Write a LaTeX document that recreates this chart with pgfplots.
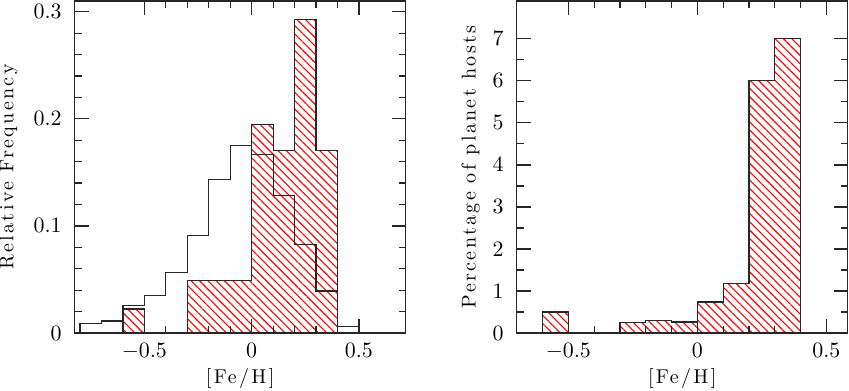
\documentclass[border=0pt]{standalone}
\usepackage{fontspec}
\usepackage{pgfplots}
\pgfplotsset{compat=1.18}
\usetikzlibrary{patterns.meta}

\newfontfamily\spaced[LetterSpace=12]{Latin Modern Roman}

\pgfplotsset{
  feh/.style={
    scale only axis, width=165.5pt, height=166pt,
    axis line style={line width=0.6pt, black!85},
    every tick/.style={line width=0.6pt, black!85},
    tick align=inside, major tick length=7pt, minor tick length=3.5pt,
    xtick={-0.5,0,0.5}, minor x tick num=4,
    tick label style={font=\fontsize{10.5}{12}\selectfont},
    xlabel={\spaced [Fe/H]},
    xlabel style={at={(axis description cs:0.5,-0.136)}, anchor=center, inner sep=0pt},
    xticklabel style={yshift=-1.5pt},
    yticklabel style={xshift=-3pt},
    axis on top,
  },
  hatched/.style={const plot, draw=black!85, line width=0.6pt,
    pattern={Lines[angle=-45, distance=2.95pt, line width=0.55pt]},
    pattern color=red},
  outline/.style={const plot, draw=black!85, line width=0.6pt},
}

\begin{document}
\begin{tikzpicture}

  % all stars vs. planet hosts
  \begin{axis}[feh,
      xmin=-0.825, xmax=0.718, ymin=0, ymax=0.31,
      ytick={0,0.1,0.2,0.3}, minor y tick num=4,
      ylabel={\spaced Relative Frequency},
      ylabel style={at={(axis description cs:-0.2,0.5)}, anchor=center, inner sep=0pt},
    ]
    \addplot[hatched] coordinates {
        (-0.6,0) (-0.6,0.0224) (-0.5,0)
    } \closedcycle;
    \addplot[hatched] coordinates {
        (-0.3,0) (-0.3,0.049) (0,0.195) (0.1,0.1704)
        (0.2,0.2928) (0.3,0.1704) (0.4,0)
    } \closedcycle;
    \addplot[outline] coordinates {
        (-0.8,0) (-0.8,0.0087) (-0.7,0.0112) (-0.6,0.0255)
        (-0.5,0.0352) (-0.4,0.0564) (-0.3,0.0913) (-0.2,0.1433)
        (-0.1,0.1748) (0,0.1664) (0.1,0.1283) (0.2,0.0826)
        (0.3,0.0393) (0.4,0.0059) (0.5,0)
    };
  \end{axis}

  % host fraction per bin
  \begin{axis}[feh, at={(221pt,0)},
      xmin=-0.7, xmax=0.583, ymin=0, ymax=7.9,
      ytick={0,1,...,7}, minor y tick num=1,
      ylabel={\spaced Percentage of planet hosts},
      ylabel style={at={(axis description cs:-0.139,0.5)}, anchor=center, inner sep=0pt},
    ]
    \addplot[hatched] coordinates {
        (-0.6,0) (-0.6,0.50) (-0.5,0)
    } \closedcycle;
    \addplot[hatched] coordinates {
        (-0.3,0) (-0.3,0.255) (-0.2,0.29) (-0.1,0.26) (0,0.738)
        (0.1,1.18) (0.2,6.0) (0.3,7.0) (0.4,0)
    } \closedcycle;
  \end{axis}

  \pgfresetboundingbox
  \useasboundingbox (-37.35pt,-28.5pt) rectangle (387.15pt,166.5pt);
\end{tikzpicture}
\end{document}
